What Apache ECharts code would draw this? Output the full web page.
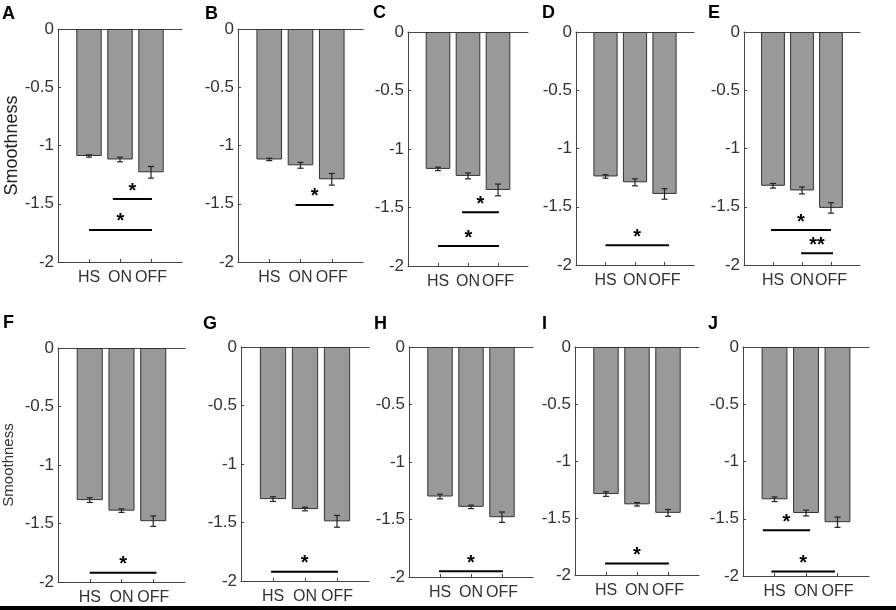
<!DOCTYPE html>
<html>
<head>
<meta charset="utf-8">
<script src="https://cdn.jsdelivr.net/npm/echarts@6/dist/echarts.min.js"></script>
<style>
  html, body { margin: 0; padding: 0; background: #fff; }
  #main { width: 896px; height: 610px; }
</style>
</head>
<body>
<div id="main"></div>
<script>
// panel letters and conditions
const panels = ['A', 'B', 'C', 'D', 'E', 'F', 'G', 'H', 'I', 'J'];
const categories = ['HS', 'ON', 'OFF'];
const yTicks = [-2, -1.5, -1, -0.5, 0];

// mean smoothness per panel (HS, ON, OFF)
const means = [
  [-1.09, -1.12, -1.23],
  [-1.12, -1.17, -1.29],
  [-1.17, -1.23, -1.35],
  [-1.24, -1.29, -1.39],
  [-1.32, -1.36, -1.51],
  [-1.30, -1.39, -1.48],
  [-1.30, -1.385, -1.49],
  [-1.30, -1.39, -1.48],
  [-1.29, -1.38, -1.455],
  [-1.33, -1.45, -1.53]
];
// standard errors
const errors = [
  [0.01, 0.02, 0.05],
  [0.01, 0.025, 0.05],
  [0.015, 0.025, 0.05],
  [0.015, 0.03, 0.045],
  [0.02, 0.03, 0.045],
  [0.02, 0.015, 0.045],
  [0.02, 0.015, 0.05],
  [0.02, 0.015, 0.045],
  [0.02, 0.015, 0.03],
  [0.02, 0.025, 0.045]
];
// significance bars: [from, to, level, number of stars]  (HS=1, ON=2, OFF=3)
const sigA = [[1.77, 3.03, -1.46, 1], [1.0, 3.03, -1.725, 1]];
const sigB = [[1.84, 3.06, -1.51, 1]];
const sigC = [[1.8, 3.03, -1.54, 1], [1.0, 3.03, -1.83, 1]];
const sigD = [[1.0, 3.15, -1.83, 1]];
const sigE = [[0.93, 3.0, -1.70, 1], [1.97, 3.07, -1.90, 2]];
const sigF = [[1.0, 3.1, -1.92, 1]];
const sigG = [[0.94, 3.03, -1.92, 1]];
const sigH = [[0.97, 3.03, -1.95, 1]];
const sigI = [[0.97, 3.03, -1.90, 1]];
const sigJ = [[0.63, 2.13, -1.60, 1], [0.9, 2.92, -1.96, 1]];
const sigs = [sigA, sigB, sigC, sigD, sigE, sigF, sigG, sigH, sigI, sigJ];

// layout of each panel: [left, top, width, height]
const boxes = [
  [58, 29, 124, 233], [238, 29, 125, 233], [408, 32, 120, 234], [576, 32, 118, 233], [744, 32, 116, 233],
  [58, 348, 127, 234], [241, 347, 128, 234], [409, 347, 124, 230], [575, 347, 124, 228], [743, 347, 126, 229]
];
const letterPos = [
  [2, 14], [205, 14], [373, 13], [542, 13], [708, 13],
  [3, 323], [203, 324], [374, 324], [542, 324], [708, 324]
];

const FONT = '"Liberation Sans", Arial, sans-serif';
const AXIS = '#444';
const TEXT = '#333';
const cats5 = ['', ...categories, ' '];

const grid = [], xAxis = [], yAxis = [], series = [];

panels.forEach((p, i) => {
  const b = boxes[i];
  grid.push({ left: b[0], top: b[1], width: b[2], height: b[3] });

  // bottom category axis (labels + ticks)
  xAxis.push({
    type: 'category', gridIndex: i, data: cats5, boundaryGap: false, position: 'bottom',
    axisLine: { onZero: false, lineStyle: { color: AXIS, width: 1 } },
    axisTick: { inside: true, length: 3, interval: (idx) => idx >= 1 && idx <= 3, lineStyle: { color: AXIS } },
    axisLabel: { interval: 0, fontSize: 16, fontFamily: FONT, color: TEXT, margin: 8 },
    splitLine: { show: false }
  });
  // value axis 0..4 for free positioning, drawn as the zero baseline on top
  xAxis.push({
    type: 'value', gridIndex: i, min: 0, max: 4, position: 'top',
    axisLine: { show: true, onZero: false, lineStyle: { color: AXIS, width: 1 } },
    axisTick: { show: false }, axisLabel: { show: false }, splitLine: { show: false }
  });

  const row2 = i >= 5;
  yAxis.push({
    type: 'value', gridIndex: i, min: yTicks[0], max: yTicks[yTicks.length - 1], interval: 0.5,
    axisLine: { show: true, onZero: false, lineStyle: { color: AXIS, width: 1 } },
    axisTick: { show: true, inside: true, length: 3, lineStyle: { color: AXIS } },
    axisLabel: { fontSize: 17, fontFamily: FONT, color: TEXT, margin: 4 },
    splitLine: { show: false },
    name: (i === 0 || i === 5) ? 'Smoothness' : '',
    nameLocation: 'middle', nameRotate: 90,
    nameGap: row2 ? 42 : 37,
    nameTextStyle: { fontSize: row2 ? 15 : 18, fontFamily: FONT, color: row2 ? '#333' : '#222' }
  });

  series.push({
    type: 'bar', xAxisIndex: 2 * i, yAxisIndex: i, barWidth: '82%',
    data: means[i].map((v, k) => [k + 1, v]),
    itemStyle: { color: '#999999', borderColor: '#333', borderWidth: 1 },
    silent: true, animation: false
  });

  series.push({
    type: 'custom', xAxisIndex: 2 * i, yAxisIndex: i, silent: true, animation: false, z: 5,
    data: means[i].map((v, k) => [k + 1, v, errors[i][k]]),
    renderItem: (params, api) => {
      const x = api.value(0), m = api.value(1), e = api.value(2);
      const lo = api.coord([x, m - e]);
      const hi = api.coord([x, m + e]);
      const cap = 3;
      const st = { stroke: '#222', lineWidth: 1.2 };
      return {
        type: 'group', children: [
          { type: 'line', shape: { x1: lo[0], y1: lo[1], x2: hi[0], y2: hi[1] }, style: st },
          { type: 'line', shape: { x1: lo[0] - cap, y1: lo[1], x2: lo[0] + cap, y2: lo[1] }, style: st },
          { type: 'line', shape: { x1: hi[0] - cap, y1: hi[1], x2: hi[0] + cap, y2: hi[1] }, style: st }
        ]
      };
    }
  });

  series.push({
    type: 'custom', xAxisIndex: 2 * i + 1, yAxisIndex: i, silent: true, animation: false, z: 6,
    data: sigs[i],
    renderItem: (params, api) => {
      const a = api.coord([api.value(0), api.value(2)]);
      const c = api.coord([api.value(1), api.value(2)]);
      const stars = '*'.repeat(api.value(3));
      return {
        type: 'group', children: [
          { type: 'line', shape: { x1: a[0], y1: a[1], x2: c[0], y2: c[1] }, style: { stroke: '#000', lineWidth: 2 } },
          { type: 'text', x: (a[0] + c[0]) / 2, y: a[1] - 8,
            style: { text: stars, fill: '#000', font: 'bold 20px ' + FONT, textAlign: 'center', textVerticalAlign: 'middle' } }
        ]
      };
    }
  });
});

const graphic = panels.map((p, i) => ({
  type: 'text', left: letterPos[i][0], top: letterPos[i][1] - 9,
  style: { text: p, fill: '#000', font: 'bold 18px ' + FONT }
}));
graphic.push({ type: 'rect', left: 0, top: 606, shape: { width: 896, height: 4 }, style: { fill: '#000' } });

const chart = echarts.init(document.getElementById('main'), null, { renderer: 'canvas' });
chart.setOption({
  animation: false,
  backgroundColor: '#fff',
  grid, xAxis, yAxis, series, graphic
});
</script>
</body>
</html>
